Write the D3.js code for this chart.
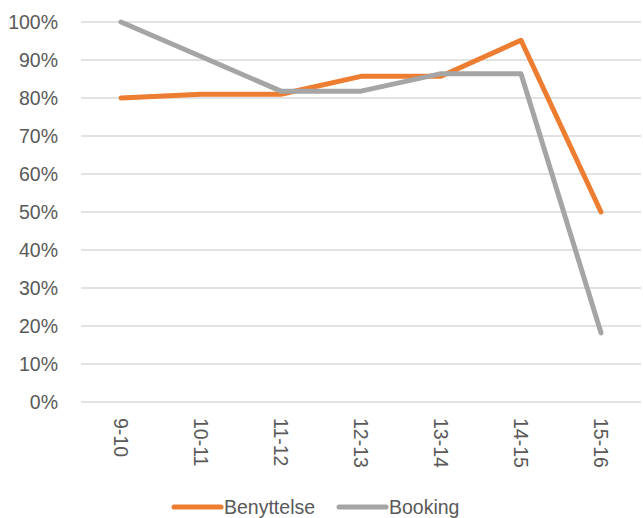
<!DOCTYPE html>
<html>
<head>
<meta charset="utf-8">
<script src="https://cdn.jsdelivr.net/npm/d3@7"></script>
<style>
  body { margin: 0; background: #fff; }
  text { font-family: "Liberation Sans", Arial, sans-serif; fill: #595959; }
</style>
</head>
<body>
<div id="chart"></div>
<script>
// season labels on the x axis
var seasons = ["9-10", "10-11", "11-12", "12-13", "13-14", "14-15", "15-16"];
// series values (share)
var benyttelse = [0.80, 0.81, 0.81, 0.857, 0.857, 0.952, 0.50];
var booking = [1.00, 0.909, 0.818, 0.818, 0.864, 0.864, 0.182];
var seriesNames = ["Benyttelse", "Booking"];
var seriesColors = ["#ED7D31", "#A5A5A5"];
var yTicks = [0, 0.1, 0.2, 0.3, 0.4, 0.5, 0.6, 0.7, 0.8, 0.9, 1.0];

var width = 643, height = 518;
var margin = {top: 22, right: 2, bottom: 116, left: 81};

var svg = d3.select("#chart").append("svg")
  .attr("width", width)
  .attr("height", height);

var x = d3.scaleBand()
  .domain(seasons)
  .range([margin.left, width - margin.right]);

var y = d3.scaleLinear()
  .domain([0, 1])
  .range([height - margin.bottom, margin.top]);

// gridlines
svg.append("g")
  .selectAll("line")
  .data(yTicks)
  .enter()
  .append("line")
  .attr("x1", margin.left)
  .attr("x2", width - margin.right)
  .attr("y1", function (d) { return y(d); })
  .attr("y2", function (d) { return y(d); })
  .style("stroke", "#D9D9D9")
  .style("stroke-width", 1.5);

// y axis labels
var yAxis = d3.axisLeft(y)
  .tickValues(yTicks)
  .tickFormat(d3.format(".0%"))
  .tickSize(0)
  .tickPadding(23);

svg.append("g")
  .attr("transform", "translate(" + margin.left + ",0)")
  .call(yAxis)
  .call(function (g) { g.select(".domain").remove(); })
  .selectAll("text")
  .style("font-size", "19.5px")
  .style("fill", "#595959");

// x axis labels, rotated
var xAxis = d3.axisBottom(x).tickSize(0).tickPadding(0);
svg.append("g")
  .attr("transform", "translate(0," + (height - margin.bottom) + ")")
  .call(xAxis)
  .call(function (g) { g.select(".domain").remove(); })
  .selectAll("text")
  .style("font-size", "19.5px")
  .style("fill", "#595959")
  .attr("text-anchor", "start")
  .attr("y", 0)
  .attr("dy", "0.35em")
  .attr("transform", "translate(0,16) rotate(90)");

// lines
var line = d3.line()
  .x(function (d, i) { return x(seasons[i]) + x.bandwidth() / 2; })
  .y(function (d) { return y(d); });

[benyttelse, booking].forEach(function (vals, i) {
  svg.append("path")
    .datum(vals)
    .attr("d", line)
    .style("fill", "none")
    .style("stroke", seriesColors[i])
    .style("stroke-width", 5)
    .style("stroke-linecap", "round")
    .style("stroke-linejoin", "round");
});

// legend
var legendX = [174, 339];
var legend = svg.append("g");
seriesNames.forEach(function (name, i) {
  legend.append("line")
    .attr("x1", legendX[i])
    .attr("x2", legendX[i] + 47)
    .attr("y1", 507)
    .attr("y2", 507)
    .style("stroke", seriesColors[i])
    .style("stroke-width", 5)
    .style("stroke-linecap", "round");
  legend.append("text")
    .attr("x", legendX[i] + 50)
    .attr("y", 507)
    .attr("dy", "0.35em")
    .style("font-size", "19.5px")
    .text(name);
});
</script>
</body>
</html>
